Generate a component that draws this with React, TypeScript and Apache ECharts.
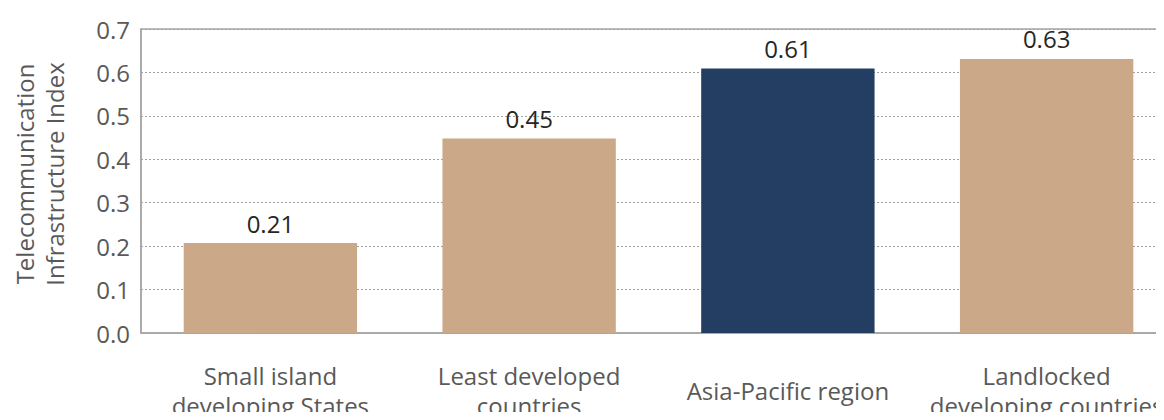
import React, { useEffect, useRef } from "react";
import * as echarts from "echarts";

const categories = [
  "Small island\ndeveloping States",
  "Least developed\ncountries",
  "Asia-Pacific region",
  "Landlocked\ndeveloping countries",
];
const values = [0.207, 0.448, 0.609, 0.631];
const barColors = ["#CBA887", "#CBA887", "#243D62", "#CBA887"];
const yTicks = [0, 0.1, 0.2, 0.3, 0.4, 0.5, 0.6, 0.7];
const yTitle = "Telecommunication\nInfrastructure Index";

const FONT = "'Open Sans', sans-serif";

export default function App() {
  const ref = useRef<HTMLDivElement>(null);
  useEffect(() => {
    if (!ref.current) return;
    const chart = echarts.init(ref.current, undefined, { renderer: "svg" });
    chart.setOption({
      animation: false,
      backgroundColor: "#ffffff",
      textStyle: { fontFamily: FONT },
      grid: {
        left: 141,
        top: 29,
        width: 1035,
        height: 308,
        show: true,
        borderColor: "#a6a6a6",
        borderWidth: 1.5,
        backgroundColor: "transparent",
      },
      xAxis: {
        type: "category",
        data: categories,
        axisLine: { show: true, lineStyle: { color: "#a6a6a6", width: 1.5 } },
        axisTick: { show: false },
        axisLabel: {
          interval: 0,
          margin: 57,
          verticalAlign: "middle",
          fontSize: 24,
          lineHeight: 30,
          color: "#595959",
          fontFamily: FONT,
        },
      },
      yAxis: {
        type: "value",
        min: yTicks[0],
        max: yTicks[yTicks.length - 1],
        interval: 0.1,
        name: yTitle,
        nameLocation: "middle",
        nameGap: 72,
        nameRotate: 90,
        nameTextStyle: {
          fontSize: 24,
          lineHeight: 30,
          color: "#595959",
          fontFamily: FONT,
          padding: [0, 0, 0, 14],
        },
        axisLine: { show: true, lineStyle: { color: "#a6a6a6", width: 1.5 } },
        axisTick: { show: false },
        axisLabel: {
          margin: 11,
          fontSize: 24,
          color: "#595959",
          fontFamily: FONT,
          formatter: (v: number) => v.toFixed(1),
        },
        splitLine: {
          show: true,
          lineStyle: { color: "#a0a0a0", type: [2, 2], width: 1 },
        },
      },
      series: [
        {
          type: "bar",
          barCategoryGap: "33%",
          data: values.map((v, i) => ({
            value: v,
            itemStyle: { color: barColors[i] },
          })),
          label: {
            show: true,
            position: "top",
            distance: 8,
            fontSize: 24,
            color: "#262626",
            fontFamily: FONT,
            formatter: (p: any) => Number(p.value).toFixed(2),
          },
        },
      ],
    });
    return () => chart.dispose();
  }, []);
  return (
    <div
      style={{
        width: 1164,
        height: 420,
        margin: -8,
        overflow: "hidden",
        position: "relative",
      }}
    >
      <div ref={ref} style={{ width: 1190, height: 420 }} />
    </div>
  );
}
